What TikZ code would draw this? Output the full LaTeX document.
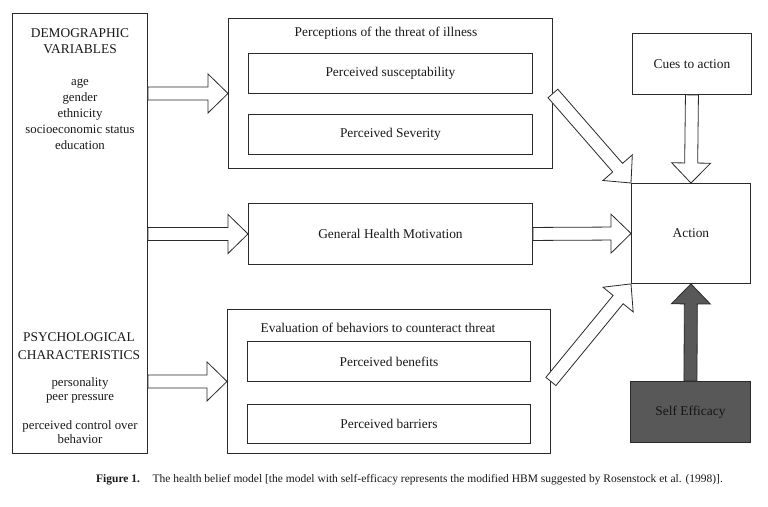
\documentclass[tikz,border=0pt]{standalone}
\usepackage{fontspec}
\setmainfont{Liberation Serif}
\usetikzlibrary{calc}
\definecolor{ln}{HTML}{2A2A2A}
\definecolor{dark}{HTML}{585858}
\tikzset{
  box/.style={draw=ln, line width=0.9pt, anchor=north west, inner sep=0pt,
    font=\fontsize{13.4}{15.5}\selectfont, text=black!90},
  txt/.style={font=\fontsize{13.4}{15.5}\selectfont, text=black!90, inner sep=0pt, align=center},
  harrow/.style={draw=ln, line width=0.8pt, fill=white, line join=miter},
  darrow/.style={draw=ln, line width=0.8pt, fill=dark, line join=miter},
}
% block arrow: #1 style, #2 from, #3 to
\newcommand\blockarrow[3]{%
  \path[#1] let \p1=(#2), \p2=(#3),
    \n1={atan2(\y2-\y1,\x2-\x1)},
    \n2={veclen(\x2-\x1,\y2-\y1)-20} in
    ($(\p1)+(\n1+90:6.5)$) -- ($(\p1)+(\n1:\n2)+(\n1+90:6.5)$)
    -- ($(\p1)+(\n1:\n2)+(\n1+90:19.5)$) -- (\p2)
    -- ($(\p1)+(\n1:\n2)+(\n1-90:19.5)$) -- ($(\p1)+(\n1:\n2)+(\n1-90:6.5)$)
    -- ($(\p1)+(\n1-90:6.5)$) -- cycle;}
\begin{document}
\begin{tikzpicture}[x=1pt,y=1pt]
\fill[white] (0,0) rectangle (768,-506);
\useasboundingbox (0,0) rectangle (768,-506);

% left box
\node[box, minimum width=135, minimum height=440] (left) at (12,-13) {};
\node[txt, font=\fontsize{13.4}{16}\selectfont] (demo) at (80,-41) {DEMOGRAPHIC\\VARIABLES};
\node[txt, font=\fontsize{12.8}{16}\selectfont] (demovars) at (80,-114) {age\\gender\\ethnicity\\socioeconomic status\\education};
\node[txt, font=\fontsize{13.4}{17.5}\selectfont] (psych) at (79,-346) {PSYCHOLOGICAL\\CHARACTERISTICS};
\node[txt, font=\fontsize{12.8}{14}\selectfont] (psychvars) at (80,-390) {personality\\peer pressure};
\node[txt, font=\fontsize{12.8}{14}\selectfont] (control) at (80,-432) {perceived control over\\behavior};

% threat box
\node[box, minimum width=324, minimum height=150] (threat) at (228,-18) {};
\node[txt] (threatT) at (386,-33) {Perceptions of the threat of illness};
\node[box, minimum width=284, minimum height=40] (sus) at (248,-53) {Perceived susceptability};
\node[box, minimum width=284, minimum height=40] (sev) at (248,-114) {Perceived Severity};

% general health motivation
\node[box, minimum width=284, minimum height=61] (ghm) at (248,-203) {General Health Motivation};

% evaluation box
\node[box, minimum width=323, minimum height=144] (eval) at (227,-309) {};
\node[txt] (evalT) at (378,-328) {Evaluation of behaviors to counteract threat};
\node[box, minimum width=283, minimum height=40] (ben) at (247,-341) {Perceived benefits};
\node[box, minimum width=283, minimum height=39] (bar) at (247,-404) {Perceived barriers};

% right column
\node[box, minimum width=119, minimum height=61] (cues) at (632,-33) {Cues to action};
\node[box, minimum width=119, minimum height=100] (action) at (631,-183) {Action};
\node[box, fill=dark, text=black!92, minimum width=120, minimum height=61] (self) at (630,-381) {Self Efficacy};

% arrows
\coordinate (a1) at (left.east |- threat.west);
\coordinate (a2) at (left.east |- ghm.west);
\coordinate (a3) at (left.east |- eval.west);
\blockarrow{harrow}{a1}{threat.west}
\blockarrow{harrow}{a2}{ghm.west}
\blockarrow{harrow}{a3}{eval.west}
\blockarrow{harrow}{ghm.east}{action.west}
\blockarrow{harrow}{threat.east}{action.north west}
\blockarrow{harrow}{eval.east}{action.south west}
\blockarrow{harrow}{cues.south}{action.north}
\blockarrow{darrow}{self.north}{action.south}

% caption
\node[anchor=west, inner sep=0pt, font=\fontsize{11.5}{13}\selectfont, text=black!90] (caption) at (96,-480)
  {\textbf{Figure 1.}\hspace{1.1em}The health belief model [the model with self-efficacy represents the modified HBM suggested by Rosenstock et al. (1998)].};
\end{tikzpicture}
\end{document}
